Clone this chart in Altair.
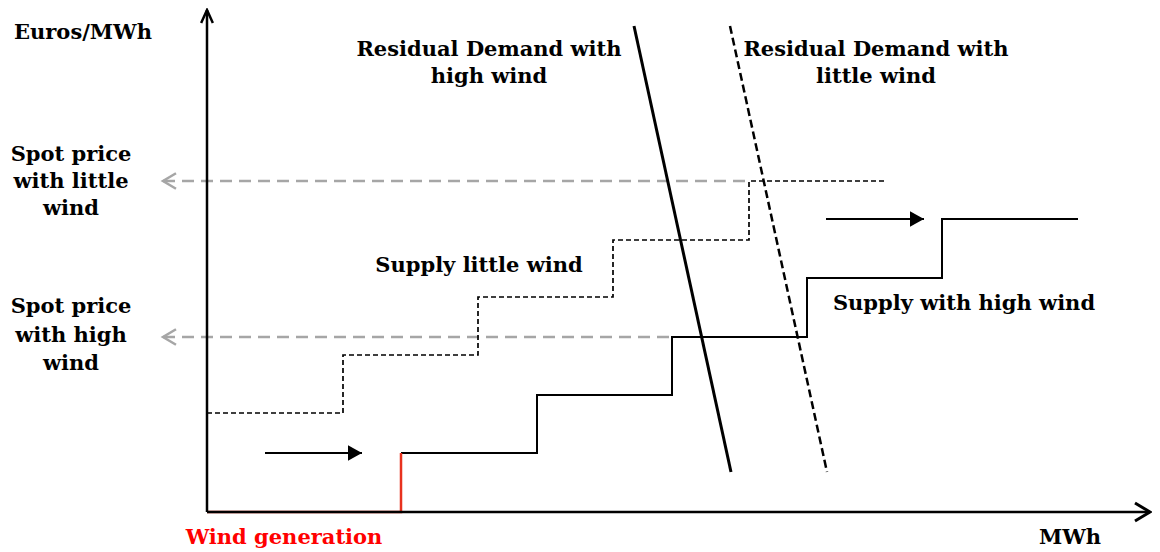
import altair as alt
import pandas as pd

# ---- schematic data (abstract units: x = MWh, y = Euros/MWh) ----
# supply curve with high wind (steps)
hw_x = [194, 330, 465, 600, 735, 871]
hw_y = [59, 117, 175, 234, 293, 293]
# supply curve with little wind (steps)
lw_x = [0, 136, 271, 406, 542, 678]
lw_y = [99, 157, 215, 272, 331, 331]
# wind generation segment
wind_x = [0, 194, 194]
wind_y = [0, 0, 59]
# residual demand lines (start, end)
dem_high_x = [427, 524]
dem_high_y = [486, 40]
dem_low_x = [523, 620]
dem_low_y = [486, 40]
# spot price guides
spot_prices = [331, 175]
spot_ends = [542, 465]
spot_start = -44
# shift arrows
shift_x1 = [58, 619]
shift_x2 = [155, 717]
shift_y = [59, 293]
# axes extents
x_max = 943
y_max = 502

# labels
lab_text = ["Euros/MWh",
            "Residual Demand with", "high wind",
            "Residual Demand with", "little wind",
            "Spot price", "with little", "wind",
            "Spot price", "with high", "wind",
            "Supply little wind", "Supply with high wind", "MWh"]
lab_x = [-124, 282, 282, 669, 669, -136, -136, -136, -136, -136, -136, 272, 757, 863]
lab_y = [479, 462, 435, 462, 435, 357, 330, 303, 205, 176, 148, 246, 208, -26]
red_text = ["Wind generation"]
red_x = [77]
red_y = [-26]

FONT = "DejaVu Serif"
xs = alt.Scale(domain=[-199, 945], nice=False, zero=False)
ys = alt.Scale(domain=[-40, 504], nice=False, zero=False)
X = lambda f: alt.X(f, type="quantitative", scale=xs, axis=None)
Y = lambda f: alt.Y(f, type="quantitative", scale=ys, axis=None)

# axes
axes_df = pd.DataFrame({"x": [0, 0], "y": [0, 0], "x2": [0, x_max], "y2": [y_max, 0]})
axes = alt.Chart(axes_df).mark_rule(color="black", strokeWidth=2.5).encode(
    x=X("x"), y=Y("y"), x2="x2", y2="y2")

up_head = alt.Chart(pd.DataFrame({"x": [0], "y": [y_max]})).mark_point(
    shape="M-0.45,1L0,0L0.45,1", size=676, filled=False, color="black",
    strokeWidth=2.5, opacity=1).encode(x=X("x"), y=Y("y"))
right_head = alt.Chart(pd.DataFrame({"x": [x_max], "y": [0]})).mark_point(
    shape="M-1,-0.6L0,0L-1,0.6", size=900, filled=False, color="black",
    strokeWidth=3, opacity=1).encode(x=X("x"), y=Y("y"))

# spot price guides
spot_df = pd.DataFrame({"x": [spot_start] * 2, "x2": spot_ends, "y": spot_prices})
spot = alt.Chart(spot_df).mark_rule(color="#a6a6a6", strokeWidth=2.5, strokeDash=[12, 7]).encode(
    x=X("x"), x2="x2", y=Y("y"))
spot_head = alt.Chart(pd.DataFrame({"x": [spot_start] * 2, "y": spot_prices})).mark_point(
    shape="M1,-0.6L0,0L1,0.6", size=676, filled=False, color="#a6a6a6",
    strokeWidth=2.5, opacity=1).encode(x=X("x"), y=Y("y"))

# supply curves
hw = alt.Chart(pd.DataFrame({"x": hw_x, "y": hw_y})).mark_line(
    color="black", strokeWidth=2, interpolate="step-after").encode(x=X("x"), y=Y("y"))
lw = alt.Chart(pd.DataFrame({"x": lw_x, "y": lw_y})).mark_line(
    color="black", strokeWidth=1.7, strokeDash=[5, 3], interpolate="step-after").encode(x=X("x"), y=Y("y"))
wind = alt.Chart(pd.DataFrame({"x": wind_x, "y": wind_y, "o": [0, 1, 2]})).mark_line(
    color="#e8321e", strokeWidth=2.5).encode(x=X("x"), y=Y("y"), order="o:Q")

# demand lines
dh = alt.Chart(pd.DataFrame({"x": [dem_high_x[0]], "x2": [dem_high_x[1]],
                             "y": [dem_high_y[0]], "y2": [dem_high_y[1]]})).mark_rule(
    color="black", strokeWidth=3).encode(x=X("x"), x2="x2", y=Y("y"), y2="y2")
dl = alt.Chart(pd.DataFrame({"x": [dem_low_x[0]], "x2": [dem_low_x[1]],
                             "y": [dem_low_y[0]], "y2": [dem_low_y[1]]})).mark_rule(
    color="black", strokeWidth=2.5, strokeDash=[8, 4]).encode(x=X("x"), x2="x2", y=Y("y"), y2="y2")

# shift arrows
sh_df = pd.DataFrame({"x": shift_x1, "x2": shift_x2, "y": shift_y})
shift = alt.Chart(sh_df).mark_rule(color="black", strokeWidth=2).encode(x=X("x"), x2="x2", y=Y("y"))
shift_head = alt.Chart(pd.DataFrame({"x": shift_x2, "y": shift_y})).mark_point(
    shape="M-1,-0.55L0,0L-1,0.55Z", size=784, filled=True, color="black", opacity=1).encode(
    x=X("x"), y=Y("y"))

# labels
labels = alt.Chart(pd.DataFrame({"x": lab_x, "y": lab_y, "t": lab_text})).mark_text(
    font=FONT, fontWeight="bold", fontSize=21, color="black", align="center", baseline="middle").encode(
    x=X("x"), y=Y("y"), text="t:N")
red_labels = alt.Chart(pd.DataFrame({"x": red_x, "y": red_y, "t": red_text})).mark_text(
    font=FONT, fontWeight="bold", fontSize=21, color="#ff0000", align="center", baseline="middle").encode(
    x=X("x"), y=Y("y"), text="t:N")

chart = alt.layer(
    spot, spot_head, lw, hw, wind, axes, up_head, right_head, dh, dl, shift, shift_head,
    labels, red_labels
).properties(
    width=1144, height=544, padding=0, autosize=alt.AutoSizeParams(type="none"),
    background="white"
).configure_view(stroke=None)

chart.save("out.html", embed_options={"renderer": "svg", "actions": False})
